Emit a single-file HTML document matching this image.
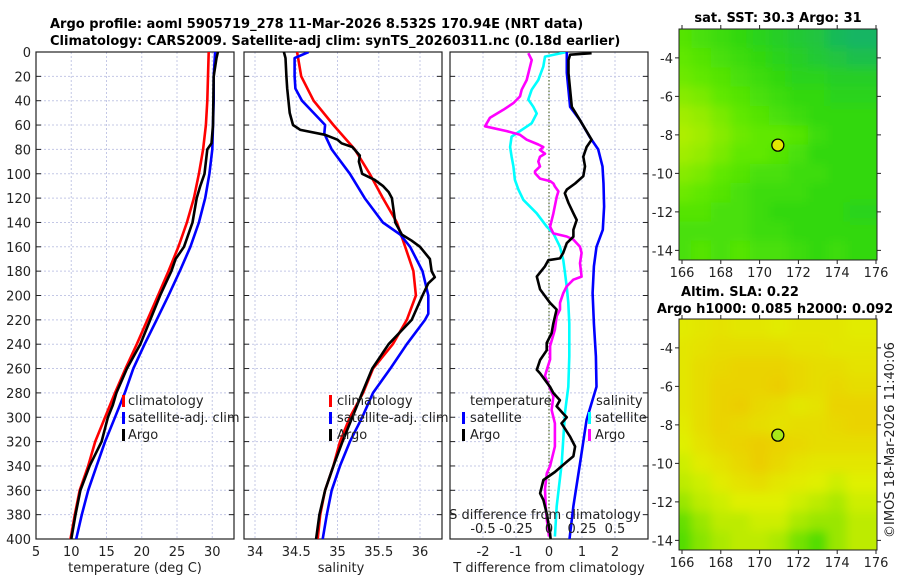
<!DOCTYPE html>
<html><head><meta charset="utf-8"><style>
body{margin:0;background:#fff}
svg text{font-family:"DejaVu Sans","Liberation Sans",sans-serif;fill:#222}
.t{font-size:13px}.b{font-weight:bold;font-size:13px;fill:#000}
</style></head><body>
<svg id="fig" width="900" height="580" viewBox="0 0 900 580" xmlns="http://www.w3.org/2000/svg">
<defs>
<clipPath id="c1"><rect x="36" y="52" width="198" height="487"/></clipPath>
<clipPath id="c2"><rect x="244" y="52" width="198" height="487"/></clipPath>
<clipPath id="c3"><rect x="450" y="52" width="198" height="487"/></clipPath>
<clipPath id="cm1"><rect x="679" y="29" width="198" height="231"/></clipPath>
<clipPath id="cm2"><rect x="679" y="319" width="198" height="231"/></clipPath>
<filter id="bl" x="-5%" y="-5%" width="110%" height="110%"><feGaussianBlur stdDeviation="5"/></filter>
</defs>
<text class="b" x="50" y="28">Argo profile: aoml 5905719_278 11-Mar-2026 8.532S 170.94E (NRT data)</text>
<text class="b" x="50" y="45">Climatology: CARS2009. Satellite-adj clim: synTS_20260311.nc (0.18d earlier)</text>
<text class="b" x="778" y="22" text-anchor="middle">sat. SST: 30.3 Argo: 31</text>
<text class="b" x="740" y="296" text-anchor="middle">Altim. SLA: 0.22</text>
<text class="b" x="775" y="313" text-anchor="middle">Argo h1000: 0.085 h2000: 0.092</text>
<text class="t" transform="translate(894,440) rotate(-90)" text-anchor="middle">©IMOS 18-Mar-2026 11:40:06</text>
<g id="g"></g>
</svg>
<script>
// ---- profile data (depth m) ----
const tDepth=[0,20,40,60,80,100,120,140,160,180,200,220,240,260,280,300,320,340,360,380,400];
const tClim=[29.5,29.4,29.3,29.1,28.7,28.1,27.4,26.4,25.2,23.8,22.3,20.8,19.3,17.7,16.2,14.8,13.4,12.4,11.2,10.5,9.9];
const tSat=[30.4,30.2,30.2,30.1,30.0,29.6,29.0,28.1,26.9,25.4,23.8,22.1,20.4,18.8,17.6,16.2,14.8,13.6,12.4,11.5,10.7];
const argoDepth=[0,5,20,60,75,80,100,110,120,140,160,170,180,190,200,220,240,260,280,290,300,320,340,360,380,400];
const tArgo=[30.8,30.6,30.2,30.1,29.9,29.3,28.9,28.3,27.8,27.2,26.0,24.8,24.2,23.4,22.6,21.2,19.8,17.9,16.4,15.9,15.2,14.3,12.6,11.3,10.6,10.0];
const sClim=[34.51,34.56,34.71,34.95,35.21,35.39,35.55,35.72,35.82,35.92,35.95,35.84,35.67,35.43,35.31,35.15,35.03,34.95,34.85,34.79,34.76];
const sSatDepth=[0,5,20,30,40,50,60,67,80,100,120,140,150,160,180,200,215,220,240,260,280,300,320,340,360,380,400];
const sSat=[34.65,34.48,34.48,34.49,34.57,34.71,34.85,34.84,34.93,35.15,35.33,35.55,35.76,35.88,36.03,36.1,36.1,36.06,35.84,35.64,35.43,35.3,35.15,35.03,34.93,34.87,34.82];
const sArgoDepth=[0,5,20,30,50,60,64,68,72,75,78,85,90,100,105,110,115,120,140,150,155,160,170,180,185,190,200,220,240,260,280,300,320,340,360,380,400];
const sArgo=[34.35,34.37,34.38,34.39,34.42,34.46,34.55,34.85,35.0,35.05,35.18,35.27,35.26,35.3,35.45,35.55,35.62,35.66,35.7,35.78,35.9,36.0,36.12,36.14,36.18,36.1,36.03,35.9,35.62,35.42,35.3,35.18,35.06,34.95,34.85,34.78,34.74];
// differences from climatology
const dtSatDepth=[0,17,45,56,70,80,94,108,127,146,160,176,198,223,250,275,302,338,373,400];
const dtSat=[0.54,0.54,0.64,0.94,1.24,1.49,1.62,1.65,1.67,1.63,1.44,1.36,1.32,1.36,1.42,1.44,1.14,0.94,0.74,0.62];
const dtArgoDepth=[1,2.2,6.6,17.5,45,56,72,78,86,94,102,108,113,116,124,132.5,138,146,151.7,157,165,169.5,171,176,184.5,195,206,211.5,223,231,239,245,253,261,264,275,280,286,291,297,300,305,316,324,332,336.5,345,351.5,362.5,368,379,395,400];
const dtArgo=[1.29,0.64,0.59,0.59,0.69,0.94,1.29,1.14,1.04,1.09,1.04,0.79,0.54,0.48,0.59,0.74,0.84,0.74,0.74,0.54,0.43,0.33,-0.02,-0.12,-0.37,-0.27,0.03,0.23,0.13,0.08,-0.07,-0.07,-0.27,-0.37,-0.27,0.03,0.13,0.33,0.23,0.43,0.54,0.38,0.64,0.79,0.74,0.54,0.18,-0.17,-0.27,-0.17,-0.07,0.03,0.05];
const dsSatDepth=[0,3.8,12,23,31,39,45,50.5,58.5,65,69.5,78,86,94,105,113,121.5,132.5,143.5,149,160,171,181.5,192.5,206,223,250,275,296,338,373,398];
const dsSat=[0.134,-0.03,-0.043,-0.081,-0.131,-0.157,-0.119,-0.093,-0.131,-0.22,-0.283,-0.295,-0.283,-0.27,-0.258,-0.232,-0.194,-0.093,-0.017,0.033,0.083,0.108,0.121,0.134,0.146,0.154,0.154,0.146,0.121,0.096,0.058,0.045];
const dsArgoDepth=[1,6.6,23,31,36.5,42,47.5,54,61,65,68,72,76,78,80.5,83.5,86,90,94,98,99.5,104,106,108,110.5,114.5,119,132.5,143.5,149,151.5,154,160,165,173.5,184.5,187,192.5,198,206,211.5,217,228,241.5,252.5,261,266,283,294,305,324,340,346,359,373,384,398];
const dsArgo=[-0.157,-0.131,-0.169,-0.207,-0.22,-0.27,-0.346,-0.447,-0.485,-0.32,-0.22,-0.169,-0.081,-0.043,-0.068,-0.03,-0.068,-0.081,-0.068,-0.106,-0.106,-0.068,0.008,0.033,0.045,0.071,0.058,0.033,0.008,0.033,0.134,0.184,0.235,0.247,0.235,0.247,0.184,0.134,0.108,0.083,0.083,0.058,0.045,0.008,0.008,-0.017,-0.03,0.033,0.02,0.045,0.045,0.008,-0.017,-0.03,-0.025,-0.017,0.0];
// tick labels
const depthTicks=[0,20,40,60,80,100,120,140,160,180,200,220,240,260,280,300,320,340,360,380,400];
const tTicks=[5,10,15,20,25,30];
const sTicks=[34,34.5,35,35.5,36];
const dtTicks=[-2,-1,0,1,2];
const dsTicks=[-0.5,-0.25,0,0.25,0.5];
const lonTicks=[166,168,170,172,174,176];
const latTicks=[-4,-6,-8,-10,-12,-14];
// map fields (rows lat -2.5..-14.5 by 1 deg, cols lon 166..176)
const sstField=[
[.55,.5,.45,.4,.35,.3,.25,.2,.1,.05],[.6,.55,.5,.45,.4,.35,.3,.25,.2,.15],[.65,.6,.55,.5,.45,.4,.35,.35,.3,.3],
[.75,.7,.6,.55,.5,.45,.4,.4,.35,.35],[.85,.8,.7,.6,.55,.5,.45,.4,.4,.4],[.9,.85,.75,.65,.6,.6,.55,.45,.4,.4],
[.85,.8,.7,.6,.6,.55,.5,.4,.4,.4],[.75,.7,.6,.55,.5,.5,.45,.45,.4,.4],[.65,.6,.55,.5,.45,.45,.45,.4,.4,.4],
[.55,.55,.5,.5,.45,.4,.4,.4,.4,.35],[.5,.5,.5,.5,.45,.45,.4,.4,.4,.4],[.5,.55,.5,.55,.5,.5,.45,.4,.45,.4]];
const slaField=[
[.55,.6,.65,.6,.6,.55,.6,.6,.6,.55],[.6,.65,.7,.7,.7,.7,.65,.65,.6,.6],[.6,.7,.75,.8,.8,.8,.75,.7,.7,.65],
[.6,.7,.8,.8,.8,.85,.75,.7,.75,.7],[.6,.7,.8,.85,.75,.7,.6,.65,.8,.8],[.55,.7,.8,.75,.7,.65,.7,.7,.75,.8],
[.5,.65,.75,.8,.85,.8,.75,.7,.7,.7],[.45,.55,.65,.75,.85,.75,.65,.6,.6,.6],[.4,.45,.55,.65,.7,.6,.55,.5,.45,.5],
[.3,.4,.45,.5,.5,.5,.45,.4,.35,.45],[.15,.3,.4,.4,.45,.45,.35,.3,.3,.4],[.1,.25,.35,.4,.4,.35,.2,.1,.3,.4]];
const argoLon=170.94, argoLat=-8.532;

const NS='http://www.w3.org/2000/svg', G=document.getElementById('g');
function mk(tag,at,par){const e=document.createElementNS(NS,tag);for(const k in at)e.setAttribute(k,at[k]);(par||G).appendChild(e);return e;}
const yD=d=>52+d*1.2175;
const xT=t=>36+(t-5)*7.05, xS=s=>255+(s-34)*82.5, xDT=v=>549+v*33, xDS=v=>549+v*132;
const Y0=52,Y1=539;
function panel(x0,x1,xt,ticks,labels,name){
  const gr=mk('g',{});
  
  
  depthTicks.forEach(d=>{mk('line',{x1:x0,x2:x1,y1:yD(d),y2:yD(d),stroke:'#c4c8e6','stroke-width':1,'stroke-dasharray':'2,2'},gr);
    mk('line',{x1:x0,x2:x0+5,y1:yD(d),y2:yD(d),stroke:'#222'},gr);mk('line',{x1:x1-5,x2:x1,y1:yD(d),y2:yD(d),stroke:'#222'},gr);});
  ticks.forEach((v,i)=>{const x=xt(v);mk('line',{x1:x,x2:x,y1:Y0,y2:Y1,stroke:'#c4c8e6','stroke-dasharray':'2,2'},gr);
    if(labels){const t=mk('text',{x:x,y:556,'text-anchor':'middle',class:'t'});t.textContent=labels[i];
    
    }});
  const f=mk('rect',{x:x0,y:Y0,width:x1-x0,height:Y1-Y0,fill:'none',stroke:'#222','stroke-width':1.2});
  
  
}
function line(depths,vals,xf,color,clip,name){
  const p=depths.map((d,i)=>(i?'L':'M')+xf(vals[i]).toFixed(1)+','+yD(d).toFixed(1)).join('');
  const e=mk('path',{d:p,fill:'none',stroke:color,'stroke-width':2.6,'stroke-linejoin':'round','clip-path':'url(#'+clip+')'});
  
  
}
function txt(x,y,s,name,anchor,cls){const t=mk('text',{x:x,y:y,'text-anchor':anchor||'start',class:cls||'t'});t.textContent=s;
  
  return t;}
function legMark(x,y,color,name){const r=mk('rect',{x:x,y:y-10,width:3,height:12,fill:color});
  
  }

panel(36,234,xT,tTicks,tTicks.map(String),'temperature-panel');
panel(244,442,xS,sTicks,sTicks.map(String),'salinity-panel');
panel(450,648,xDT,dtTicks,dtTicks.map(String),'difference-panel');
depthTicks.forEach(d=>txt(31,yD(d)+5,String(d),'depth-tick-label','end'));
// vertical zero line
const z=mk('line',{x1:549,x2:549,y1:Y0,y2:Y1,stroke:'#556b2f','stroke-width':1.2,'stroke-dasharray':'1.5,2'});



line(tDepth,tClim,xT,'#ff0000','c1','temperature-climatology-line');
line(tDepth,tSat,xT,'#0000ff','c1','temperature-satellite-line');
line(argoDepth,tArgo,xT,'#000','c1','temperature-argo-line');
line(tDepth,sClim,xS,'#ff0000','c2','salinity-climatology-line');
line(sSatDepth,sSat,xS,'#0000ff','c2','salinity-satellite-line');
line(sArgoDepth,sArgo,xS,'#000','c2','salinity-argo-line');
line(dsSatDepth,dsSat,xDS,'#00ffff','c3','salinity-satellite-diff-line');
line(dsArgoDepth,dsArgo,xDS,'#ff00ff','c3','salinity-argo-diff-line');
line(dtSatDepth,dtSat,xDT,'#0000ff','c3','temperature-satellite-diff-line');
line(dtArgoDepth,dtArgo,xDT,'#000','c3','temperature-argo-diff-line');

// legends
[[122,128],[329,337]].forEach(([mx,tx],k)=>{const n=k?'salinity':'temperature';
 legMark(mx,405,'#ff0000',n+'-legend-climatology-marker');txt(tx,405,'climatology',n+'-legend-climatology');
 legMark(mx,422,'#0000ff',n+'-legend-satellite-marker');txt(tx,422,'satellite-adj. clim',n+'-legend-satellite');
 legMark(mx,439,'#000',n+'-legend-argo-marker');txt(tx,439,'Argo',n+'-legend-argo');});
txt(470,405,'temperature','diff-legend-temperature-header');
legMark(462,422,'#0000ff','diff-legend-t-satellite-marker');txt(470,422,'satellite','diff-legend-t-satellite');
legMark(462,439,'#000','diff-legend-t-argo-marker');txt(470,439,'Argo','diff-legend-t-argo');
txt(596,405,'salinity','diff-legend-salinity-header');
legMark(588,422,'#00ffff','diff-legend-s-satellite-marker');txt(595,422,'satellite','diff-legend-s-satellite');
legMark(588,439,'#ff00ff','diff-legend-s-argo-marker');txt(595,439,'Argo','diff-legend-s-argo');
txt(545,519,'S difference from climatology','s-difference-axis-title','middle');
dsTicks.forEach(v=>txt(xDS(v),533,String(v),'s-difference-tick-label','middle'));
txt(135,572,'temperature (deg C)','temperature-axis-title','middle');
txt(341,572,'salinity','salinity-axis-title','middle');
txt(549,572,'T difference from climatology','t-difference-axis-title','middle');

// maps
function lerp(a,b,t){return a.map((v,i)=>Math.round(v+(b[i]-v)*t));}
function cmap(stops,v){for(let i=1;i<stops.length;i++){if(v<=stops[i][0]){const t=(v-stops[i-1][0])/(stops[i][0]-stops[i-1][0]);return 'rgb('+lerp(stops[i-1][1],stops[i][1],t).join(',')+')';}}return 'rgb('+stops[stops.length-1][1].join(',')+')';}
const sstStops=[[0,[16,176,112]],[0.4,[48,216,16]],[0.6,[96,232,0]],[1,[200,240,0]]];
const slaStops=[[0,[48,216,0]],[0.5,[224,240,0]],[1,[240,192,0]]];
function map(top,field,stops,clip,name,dotColor,xlabY){
  const x0=679,x1=877,y1=top+231;
  const lx=lon=>682+(lon-166)*19.4, ly=lat=>top+(-2.5-lat)*19.25;
  const mg=mk('g',{'clip-path':'url(#'+clip+')'});
  
  
  const inner=mk('g',{filter:'url(#bl)'},mg);
  field.forEach((row,r)=>row.forEach((v,c)=>{const cell=mk('rect',{x:lx(166+c)-10-(c==0?20:0),y:ly(-2.5-r)-(r==0?20:0),width:20.5+(c==0?20:0)+(c==9?30:0),height:19.8+(r==0?20:0)+(r==11?30:0),fill:cmap(stops,v)},inner);
    
    }));
  const f=mk('rect',{x:x0,y:top,width:x1-x0,height:231,fill:'none',stroke:'#222'});
  
  
  latTicks.forEach(l=>{const y=ly(l);mk('line',{x1:x0-4,x2:x0,y1:y,y2:y,stroke:'#222'});mk('line',{x1:x1,x2:x1+4,y1:y,y2:y,stroke:'#222'});
    txt(673,y+5,String(l),name+'-lat-label','end');});
  lonTicks.forEach(l=>{const x=lx(l);mk('line',{x1:x,x2:x,y1:y1,y2:y1+4,stroke:'#222'});mk('line',{x1:x,x2:x,y1:top-4,y2:top,stroke:'#222'});
    txt(x,xlabY,String(l),name+'-lon-label','middle');});
  const c=mk('circle',{cx:lx(argoLon),cy:ly(argoLat),r:6,fill:dotColor,stroke:'#000','stroke-width':1.3});
  
  
}
map(29,sstField,sstStops,'cm1','sst-map','#e4e800',277);
map(319,slaField,slaStops,'cm2','sla-map','#a8e818',567);
</script>
</body></html>
